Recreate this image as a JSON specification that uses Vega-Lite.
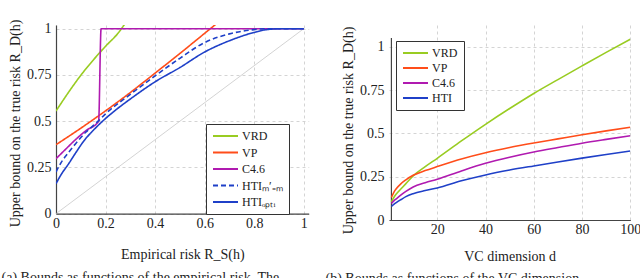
{
  "$schema": "https://vega.github.io/schema/vega-lite/v6.json",
  "padding": {"left": 1, "top": 19, "right": 0, "bottom": 0},
  "background": "white",
  "resolve": {"scale": {"color": "independent", "strokeDash": "independent"}, "legend": {"color": "independent", "strokeDash": "independent"}},
  "config": {
    "font": "Times New Roman, Liberation Serif, serif",
    "view": {"stroke": null},
    "concat": {"spacing": 16},
    "style": {
      "guide-label": {"font": "Times New Roman, Liberation Serif, serif"},
      "guide-title": {"font": "Times New Roman, Liberation Serif, serif"}
    },
    "axis": {
      "labelFont": "Times New Roman, Liberation Serif, serif", "labelFontSize": 14, "labelColor": "#222",
      "titleFont": "Times New Roman, Liberation Serif, serif", "titleFontSize": 14, "titleFontWeight": "normal", "titleColor": "#222",
      "domainColor": "#444", "domainWidth": 1.2, "ticks": false,
      "gridColor": "#cfcfcf", "gridDash": [3, 3], "gridWidth": 0.9,
      "labelPadding": 5, "labelFlush": false, "labelOverlap": false, "labelExpr": "'' + datum.value"
    },
    "legend": {
      "labelFont": "Times New Roman, Liberation Serif, serif", "labelFontSize": 12, "labelColor": "#222",
      "symbolType": "stroke", "symbolSize": 625, "symbolStrokeWidth": 2, "clipHeight": 12,
      "strokeColor": "#333", "fillColor": "white", "padding": 6, "rowPadding": 3, "labelOffset": 3, "cornerRadius": 0
    },
    "title": {"font": "Times New Roman, Liberation Serif, serif", "fontSize": 14, "fontWeight": "normal", "color": "#222"}
  },
  "datasets": {
    "risk": [
      {"s": "VRD", "r": 0, "v": 0.555}, {"s": "VRD", "r": 0.05, "v": 0.655}, {"s": "VRD", "r": 0.1, "v": 0.748},
      {"s": "VRD", "r": 0.15, "v": 0.83}, {"s": "VRD", "r": 0.2, "v": 0.905}, {"s": "VRD", "r": 0.25, "v": 0.975},
      {"s": "VRD", "r": 0.28, "v": 1.03},
      {"s": "VP", "r": 0, "v": 0.373}, {"s": "VP", "r": 0.1, "v": 0.462}, {"s": "VP", "r": 0.2, "v": 0.556},
      {"s": "VP", "r": 0.3, "v": 0.655}, {"s": "VP", "r": 0.4, "v": 0.76}, {"s": "VP", "r": 0.5, "v": 0.866},
      {"s": "VP", "r": 0.6, "v": 0.975}, {"s": "VP", "r": 0.66, "v": 1.04},
      {"s": "C4.6", "r": 0, "v": 0.297}, {"s": "C4.6", "r": 0.04, "v": 0.35}, {"s": "C4.6", "r": 0.08, "v": 0.402},
      {"s": "C4.6", "r": 0.12, "v": 0.448}, {"s": "C4.6", "r": 0.172, "v": 0.5}, {"s": "C4.6", "r": 0.182, "v": 1.0},
      {"s": "C4.6", "r": 0.5, "v": 1.0}, {"s": "C4.6", "r": 1, "v": 1.0},
      {"s": "HTIₘ′₌ₘ", "r": 0, "v": 0.225}, {"s": "HTIₘ′₌ₘ", "r": 0.02, "v": 0.275}, {"s": "HTIₘ′₌ₘ", "r": 0.05, "v": 0.33},
      {"s": "HTIₘ′₌ₘ", "r": 0.08, "v": 0.38}, {"s": "HTIₘ′₌ₘ", "r": 0.12, "v": 0.44}, {"s": "HTIₘ′₌ₘ", "r": 0.17, "v": 0.5},
      {"s": "HTIₘ′₌ₘ", "r": 0.2, "v": 0.54}, {"s": "HTIₘ′₌ₘ", "r": 0.3, "v": 0.645}, {"s": "HTIₘ′₌ₘ", "r": 0.4, "v": 0.745},
      {"s": "HTIₘ′₌ₘ", "r": 0.5, "v": 0.84}, {"s": "HTIₘ′₌ₘ", "r": 0.6, "v": 0.925}, {"s": "HTIₘ′₌ₘ", "r": 0.7, "v": 0.972},
      {"s": "HTIₘ′₌ₘ", "r": 0.8, "v": 0.995}, {"s": "HTIₘ′₌ₘ", "r": 0.85, "v": 1.0}, {"s": "HTIₘ′₌ₘ", "r": 1, "v": 1.0},
      {"s": "HTIₒₚₜᵢ", "r": 0, "v": 0.162}, {"s": "HTIₒₚₜᵢ", "r": 0.02, "v": 0.21}, {"s": "HTIₒₚₜᵢ", "r": 0.05, "v": 0.268},
      {"s": "HTIₒₚₜᵢ", "r": 0.08, "v": 0.33}, {"s": "HTIₒₚₜᵢ", "r": 0.114, "v": 0.396}, {"s": "HTIₒₚₜᵢ", "r": 0.15, "v": 0.45},
      {"s": "HTIₒₚₜᵢ", "r": 0.188, "v": 0.5}, {"s": "HTIₒₚₜᵢ", "r": 0.25, "v": 0.57}, {"s": "HTIₒₚₜᵢ", "r": 0.3, "v": 0.62},
      {"s": "HTIₒₚₜᵢ", "r": 0.4, "v": 0.713}, {"s": "HTIₒₚₜᵢ", "r": 0.5, "v": 0.79}, {"s": "HTIₒₚₜᵢ", "r": 0.6, "v": 0.874},
      {"s": "HTIₒₚₜᵢ", "r": 0.7, "v": 0.935}, {"s": "HTIₒₚₜᵢ", "r": 0.8, "v": 0.98}, {"s": "HTIₒₚₜᵢ", "r": 0.85, "v": 0.995},
      {"s": "HTIₒₚₜᵢ", "r": 0.91, "v": 1.0}, {"s": "HTIₒₚₜᵢ", "r": 1, "v": 1.0}
    ],
    "diag": [{"r": 0, "v": 0}, {"r": 1, "v": 1}],
    "yline": [{"d": 1, "v": 0, "v2": 1.05}],
    "vc": [
      {"s": "VRD", "d": 1, "v": 0.105}, {"s": "VRD", "d": 2, "v": 0.13}, {"s": "VRD", "d": 3, "v": 0.15},
      {"s": "VRD", "d": 5, "v": 0.18}, {"s": "VRD", "d": 7, "v": 0.21}, {"s": "VRD", "d": 10, "v": 0.255},
      {"s": "VRD", "d": 15, "v": 0.308}, {"s": "VRD", "d": 20, "v": 0.356}, {"s": "VRD", "d": 30, "v": 0.456},
      {"s": "VRD", "d": 40, "v": 0.552}, {"s": "VRD", "d": 50, "v": 0.643}, {"s": "VRD", "d": 60, "v": 0.73},
      {"s": "VRD", "d": 70, "v": 0.81}, {"s": "VRD", "d": 80, "v": 0.889}, {"s": "VRD", "d": 90, "v": 0.967},
      {"s": "VRD", "d": 100, "v": 1.043},
      {"s": "VP", "d": 1, "v": 0.13}, {"s": "VP", "d": 2, "v": 0.16}, {"s": "VP", "d": 3, "v": 0.18},
      {"s": "VP", "d": 5, "v": 0.21}, {"s": "VP", "d": 7, "v": 0.232}, {"s": "VP", "d": 10, "v": 0.258},
      {"s": "VP", "d": 15, "v": 0.285}, {"s": "VP", "d": 20, "v": 0.308}, {"s": "VP", "d": 30, "v": 0.352},
      {"s": "VP", "d": 40, "v": 0.388}, {"s": "VP", "d": 50, "v": 0.418}, {"s": "VP", "d": 60, "v": 0.444},
      {"s": "VP", "d": 70, "v": 0.468}, {"s": "VP", "d": 80, "v": 0.492}, {"s": "VP", "d": 90, "v": 0.514},
      {"s": "VP", "d": 100, "v": 0.535},
      {"s": "C4.6", "d": 1, "v": 0.095}, {"s": "C4.6", "d": 2, "v": 0.11}, {"s": "C4.6", "d": 3, "v": 0.122},
      {"s": "C4.6", "d": 5, "v": 0.145}, {"s": "C4.6", "d": 7, "v": 0.165}, {"s": "C4.6", "d": 10, "v": 0.19},
      {"s": "C4.6", "d": 15, "v": 0.215}, {"s": "C4.6", "d": 20, "v": 0.235}, {"s": "C4.6", "d": 30, "v": 0.283},
      {"s": "C4.6", "d": 40, "v": 0.327}, {"s": "C4.6", "d": 50, "v": 0.362}, {"s": "C4.6", "d": 60, "v": 0.392},
      {"s": "C4.6", "d": 70, "v": 0.418}, {"s": "C4.6", "d": 80, "v": 0.443}, {"s": "C4.6", "d": 90, "v": 0.465},
      {"s": "C4.6", "d": 100, "v": 0.486},
      {"s": "HTI", "d": 1, "v": 0.078}, {"s": "HTI", "d": 2, "v": 0.09}, {"s": "HTI", "d": 3, "v": 0.1},
      {"s": "HTI", "d": 5, "v": 0.118}, {"s": "HTI", "d": 7, "v": 0.135}, {"s": "HTI", "d": 10, "v": 0.152},
      {"s": "HTI", "d": 15, "v": 0.17}, {"s": "HTI", "d": 20, "v": 0.185}, {"s": "HTI", "d": 30, "v": 0.226},
      {"s": "HTI", "d": 40, "v": 0.26}, {"s": "HTI", "d": 50, "v": 0.288}, {"s": "HTI", "d": 60, "v": 0.312},
      {"s": "HTI", "d": 70, "v": 0.335}, {"s": "HTI", "d": 80, "v": 0.357}, {"s": "HTI", "d": 90, "v": 0.378},
      {"s": "HTI", "d": 100, "v": 0.398}
    ]
  },
  "hconcat": [
    {
      "width": 252.7,
      "height": 188.7,
      "title": {"text": "(a) Bounds as functions of the empirical risk. The", "orient": "bottom", "anchor": "start", "frame": "bounds", "offset": 9, "dx": -7},
      "layer": [
        {
          "data": {"name": "diag"},
          "mark": {"type": "line", "color": "#c8c8c8", "strokeWidth": 0.8},
          "encoding": {
            "x": {"field": "r", "type": "quantitative", "scale": {"domain": [0, 1.02], "nice": false},
              "axis": {"values": [0, 0.2, 0.4, 0.6, 0.8, 1], "title": "Empirical risk R_S(h)", "titlePadding": 17, "labelPadding": 3,
                "labelFont": "Times New Roman, Liberation Serif, serif", "titleFont": "Times New Roman, Liberation Serif, serif"}},
            "y": {"field": "v", "type": "quantitative", "scale": {"domain": [0, 1.02], "nice": false},
              "axis": {"values": [0, 0.25, 0.5, 0.75, 1], "title": "Upper bound on the true risk R_D(h)", "titlePadding": 4, "titleY": 98,
                "labelFont": "Times New Roman, Liberation Serif, serif", "titleFont": "Times New Roman, Liberation Serif, serif"}}
          }
        },
        {
          "data": {"name": "risk"},
          "mark": {"type": "line", "strokeWidth": 1.6, "interpolate": "monotone", "clip": true},
          "encoding": {
            "x": {"field": "r", "type": "quantitative"},
            "y": {"field": "v", "type": "quantitative"},
            "color": {"field": "s", "type": "nominal",
              "scale": {"domain": ["VRD", "VP", "C4.6", "HTIₘ′₌ₘ", "HTIₒₚₜᵢ"], "range": ["#99cc22", "#ff4d1a", "#b01ab0", "#1f40c8", "#1f40c8"]},
              "legend": {"title": null, "orient": "none", "legendX": 150, "legendY": 99, "rowPadding": 4.5,
                "labelFont": "Times New Roman, Liberation Serif, serif",
                "encode": {"symbols": {"update": {"strokeDash": {"signal": "datum.value === 'HTIₘ′₌ₘ' ? [5, 3] : [1, 0]"}}}}}},
            "strokeDash": {"field": "s", "type": "nominal",
              "scale": {"domain": ["VRD", "VP", "C4.6", "HTIₘ′₌ₘ", "HTIₒₚₜᵢ"], "range": [[1, 0], [1, 0], [1, 0], [5, 3], [1, 0]]},
              "legend": null}
          }
        }
      ]
    },
    {
      "width": 241.3,
      "height": 195,
      "title": {"text": "(b) Bounds as functions of the VC dimension", "orient": "bottom", "anchor": "start", "frame": "bounds", "offset": 9, "dx": -16},
      "layer": [
        {
          "data": {"name": "yline"},
          "mark": {"type": "rule", "color": "#444", "strokeWidth": 1.2},
          "encoding": {
            "x": {"field": "d", "type": "quantitative"},
            "y": {"field": "v", "type": "quantitative"},
            "y2": {"field": "v2"}
          }
        },
        {
          "data": {"name": "vc"},
          "mark": {"type": "line", "strokeWidth": 1.6, "interpolate": "monotone", "clip": true},
          "encoding": {
            "x": {"field": "d", "type": "quantitative", "scale": {"domain": [1, 100], "nice": false},
              "axis": {"values": [20, 40, 60, 80, 100], "title": "VC dimension d", "titlePadding": 13, "labelPadding": 2,
                "labelFont": "Times New Roman, Liberation Serif, serif", "titleFont": "Times New Roman, Liberation Serif, serif"}},
            "y": {"field": "v", "type": "quantitative", "scale": {"domain": [0, 1.125], "nice": false},
              "axis": {"values": [0, 0.25, 0.5, 0.75, 1], "title": "Upper bound on the true risk R_D(h)", "titlePadding": 4, "domain": false, "titleY": 105,
                "labelFont": "Times New Roman, Liberation Serif, serif", "titleFont": "Times New Roman, Liberation Serif, serif"}},
            "color": {"field": "s", "type": "nominal",
              "scale": {"domain": ["VRD", "VP", "C4.6", "HTI"], "range": ["#99cc22", "#ff4d1a", "#b01ab0", "#1f40c8"]},
              "legend": {"title": null, "orient": "none", "legendX": 7, "legendY": 16, "labelFont": "Times New Roman, Liberation Serif, serif"}}
          }
        }
      ]
    }
  ]
}
